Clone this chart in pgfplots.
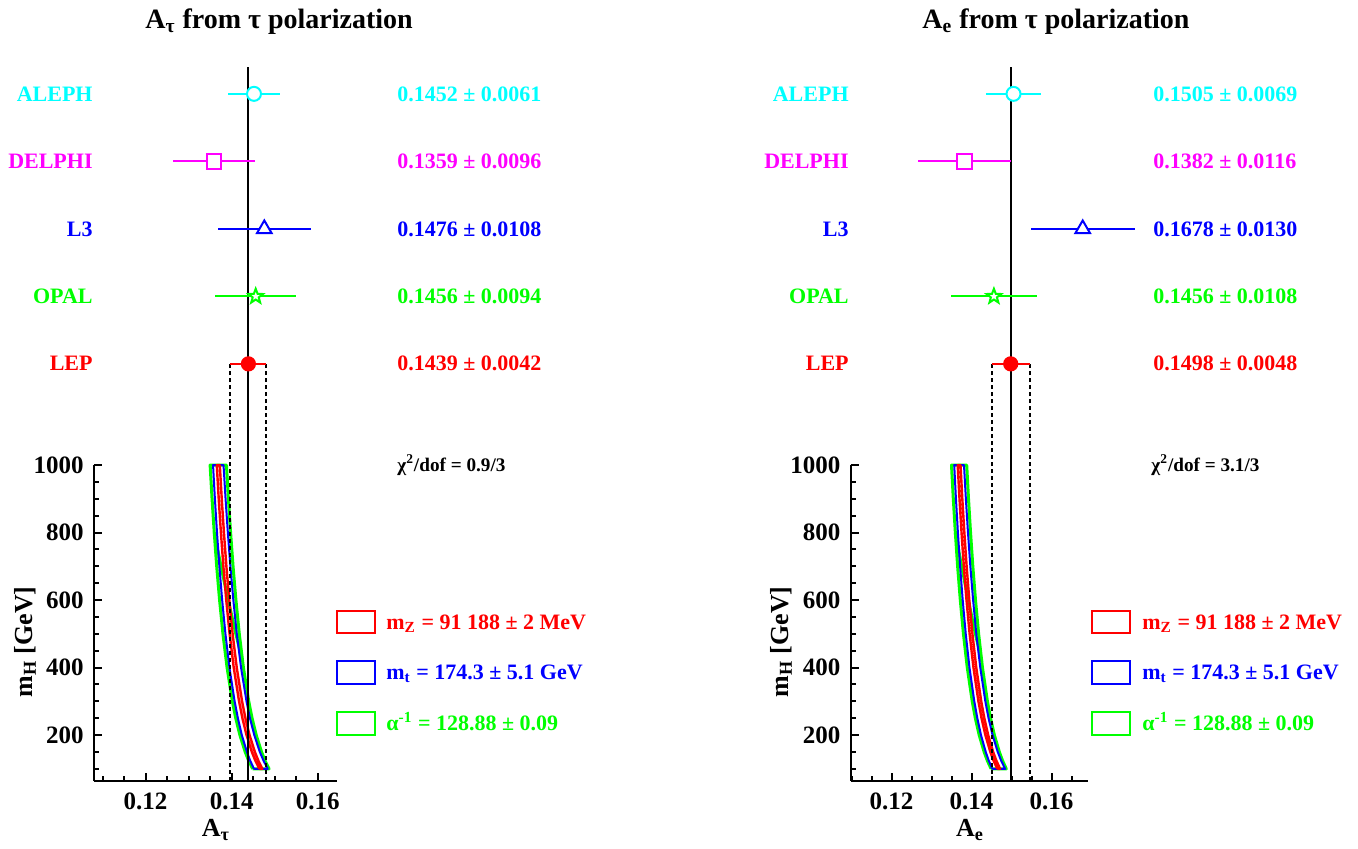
\documentclass[border=0pt]{standalone}
\usepackage{fontspec}
\setmainfont{Liberation Serif}
\usepackage{pgfplots}
\pgfplotsset{compat=1.18}
\usetikzlibrary{plotmarks}

\definecolor{cyanc}{RGB}{0,255,255}
\definecolor{magc}{RGB}{255,0,255}
\definecolor{bluec}{RGB}{0,0,255}
\definecolor{greenc}{RGB}{0,255,0}
\definecolor{redc}{RGB}{255,0,0}

\pgfdeclareplotmark{fivestar}{%
  \pgfpathmoveto{\pgfpointpolar{90}{\pgfplotmarksize}}%
  \pgfpathlineto{\pgfpointpolar{126}{0.42\pgfplotmarksize}}%
  \pgfpathlineto{\pgfpointpolar{162}{\pgfplotmarksize}}%
  \pgfpathlineto{\pgfpointpolar{198}{0.42\pgfplotmarksize}}%
  \pgfpathlineto{\pgfpointpolar{234}{\pgfplotmarksize}}%
  \pgfpathlineto{\pgfpointpolar{270}{0.42\pgfplotmarksize}}%
  \pgfpathlineto{\pgfpointpolar{306}{\pgfplotmarksize}}%
  \pgfpathlineto{\pgfpointpolar{342}{0.42\pgfplotmarksize}}%
  \pgfpathlineto{\pgfpointpolar{18}{\pgfplotmarksize}}%
  \pgfpathlineto{\pgfpointpolar{54}{0.42\pgfplotmarksize}}%
  \pgfpathclose
  \pgfusepathqfillstroke
}

\newcommand{\fs}[1]{\fontsize{#1}{#1}\selectfont\bfseries}

\pgfplotsset{panel/.style={
  scale only axis, height=360.45pt, ymin=64, ymax=2200,
  axis x line=bottom, axis y line=left,
  axis line style={-, line width=1.2pt},
  y axis line style={draw=none},
  tick align=inside, major tick length=4pt, minor tick length=2.6pt,
  every tick/.append style={black, line width=1pt},
  ytick={200,400,600,800,1000},
  minor ytick={100,150,250,300,350,450,500,550,650,700,750,850,900,950},
  xtick={0.12,0.14,0.16},
  minor xtick={0.11,0.115,0.125,0.13,0.135,0.145,0.15,0.155,0.165},
  ticklabel style={font=\fs{12.5}},
  /pgf/number format/assume math mode=true,
  xticklabel style={yshift=-2.2pt, /pgf/number format/.cd, fixed, precision=2, fixed zerofill},
  yticklabel style={xshift=-1.6pt, /pgf/number format/1000 sep={}},
  scaled x ticks=false,
  clip=false,
}}

\newcommand{\bands}{%
\addplot[greenc, line width=1.5pt, line join=round] coordinates {
(0.14490,100)(0.14394,125)(0.14316,150)(0.14192,200)(0.14096,250)(0.14018,300)(0.13894,400)(0.13798,500)(0.13720,600)(0.13653,700)(0.13596,800)(0.13545,900)(0.13500,1000)
(0.13880,1000)(0.13925,900)(0.13976,800)(0.14033,700)(0.14100,600)(0.14178,500)(0.14274,400)(0.14398,300)(0.14476,250)(0.14572,200)(0.14696,150)(0.14774,125)(0.14870,100)(0.14490,100)};
\addplot[greenc, line width=1.5pt] coordinates {
(0.13596,800)(0.13753,700)(0.13920,600)(0.14098,500)(0.14253,420)};
\addplot[bluec, line width=1pt, line join=round] coordinates {
(0.14520,100)(0.14429,125)(0.14356,150)(0.14237,200)(0.14146,250)(0.14070,300)(0.13949,400)(0.13856,500)(0.13780,600)(0.13715,700)(0.13660,800)(0.13611,900)(0.13568,1000)
(0.13812,1000)(0.13859,900)(0.13912,800)(0.13971,700)(0.14040,600)(0.14120,500)(0.14219,400)(0.14346,300)(0.14426,250)(0.14527,200)(0.14656,150)(0.14739,125)(0.14840,100)(0.14520,100)};
\addplot[redc, line width=1.2pt, line join=round] coordinates {
(0.14645,100)(0.14549,125)(0.14471,150)(0.14347,200)(0.14251,250)(0.14173,300)(0.14049,400)(0.13953,500)(0.13875,600)(0.13808,700)(0.13751,800)(0.13700,900)(0.13655,1000)
(0.13725,1000)(0.13770,900)(0.13821,800)(0.13878,700)(0.13945,600)(0.14023,500)(0.14119,400)(0.14243,300)(0.14321,250)(0.14417,200)(0.14541,150)(0.14619,125)(0.14715,100)(0.14645,100)};
}

% color, mark, x, err, y, mark size, fill
\newcommand{\meas}[7]{%
\addplot[#1, line width=1pt, mark=#2, mark size=#6,
  mark options={solid, line width=1pt, draw=#1, fill=#7},
  error bars/.cd, x dir=both, x explicit, error mark=none,
  error bar style={line width=1pt, #1}]
  coordinates {(#3,#5) +- (#4,0)};}

\begin{document}
\begin{tikzpicture}
% ---------------- left panel ----------------
\begin{axis}[panel, at={(47pt,-390.5pt)}, anchor=south west,
  width=121.5pt, xmin=0.108, xmax=0.1645]
\bands
\addplot[black, line width=1.2pt] coordinates {(0.108,64) (0.108,1000)};
\addplot[black, line width=1pt] coordinates {(0.1439,64) (0.1439,2180)};
\addplot[black, line width=1pt, dash pattern=on 2pt off 1.5pt] coordinates {(0.1397,64) (0.1397,1300)};
\addplot[black, line width=1pt, dash pattern=on 2pt off 1.5pt] coordinates {(0.1481,64) (0.1481,1300)};
\meas{cyanc}{*}{0.1452}{0.0061}{2100}{3.5pt}{white}
\meas{magc}{square*}{0.1359}{0.0096}{1900}{3.6pt}{white}
\meas{bluec}{triangle*}{0.1476}{0.0108}{1700}{4.2pt}{white}
\meas{greenc}{fivestar}{0.1456}{0.0094}{1500}{3.8pt}{white}
\meas{redc}{*}{0.1439}{0.0042}{1300}{3.3pt}{redc}
\end{axis}
% ---------------- right panel ----------------
\begin{axis}[panel, at={(425.35pt,-390.5pt)}, anchor=south west,
  width=118.8pt, xmin=0.1098, xmax=0.1692]
\bands
\addplot[black, line width=1.2pt] coordinates {(0.1098,64) (0.1098,1000)};
\addplot[black, line width=1pt] coordinates {(0.1498,64) (0.1498,2180)};
\addplot[black, line width=1pt, dash pattern=on 2pt off 1.5pt] coordinates {(0.1450,64) (0.1450,1300)};
\addplot[black, line width=1pt, dash pattern=on 2pt off 1.5pt] coordinates {(0.1546,64) (0.1546,1300)};
\meas{cyanc}{*}{0.1505}{0.0069}{2100}{3.5pt}{white}
\meas{magc}{square*}{0.1382}{0.0116}{1900}{3.6pt}{white}
\meas{bluec}{triangle*}{0.1678}{0.0130}{1700}{4.2pt}{white}
\meas{greenc}{fivestar}{0.1456}{0.0108}{1500}{3.8pt}{white}
\meas{redc}{*}{0.1498}{0.0048}{1300}{3.3pt}{redc}
\end{axis}

\begin{scope}[x=0.5pt, y=-0.5pt, every node/.style={inner sep=0pt}]
% titles
\node[anchor=base, font=\fs{14}] at (279,28.5) {A\textsubscript{τ} from τ polarization};
\node[anchor=base, font=\fs{14}] at (1056,28.5) {A\textsubscript{e} from τ polarization};
% left rows
\node[anchor=base east, font=\fs{11}, text=cyanc] at (93,101) {ALEPH};
\node[anchor=base east, font=\fs{11}, text=magc] at (93,168) {DELPHI};
\node[anchor=base east, font=\fs{11}, text=bluec] at (93,236) {L3};
\node[anchor=base east, font=\fs{11}, text=greenc] at (93,303) {OPAL};
\node[anchor=base east, font=\fs{11}, text=redc] at (93,370) {LEP};
\node[anchor=base west, font=\fs{11}, text=cyanc] at (397,101) {0.1452 ± 0.0061};
\node[anchor=base west, font=\fs{11}, text=magc] at (397,168) {0.1359 ± 0.0096};
\node[anchor=base west, font=\fs{11}, text=bluec] at (397,236) {0.1476 ± 0.0108};
\node[anchor=base west, font=\fs{11}, text=greenc] at (397,303) {0.1456 ± 0.0094};
\node[anchor=base west, font=\fs{11}, text=redc] at (397,370) {0.1439 ± 0.0042};
% right rows
\node[anchor=base east, font=\fs{11}, text=cyanc] at (849,101) {ALEPH};
\node[anchor=base east, font=\fs{11}, text=magc] at (849,168) {DELPHI};
\node[anchor=base east, font=\fs{11}, text=bluec] at (849,236) {L3};
\node[anchor=base east, font=\fs{11}, text=greenc] at (849,303) {OPAL};
\node[anchor=base east, font=\fs{11}, text=redc] at (849,370) {LEP};
\node[anchor=base west, font=\fs{11}, text=cyanc] at (1153,101) {0.1505 ± 0.0069};
\node[anchor=base west, font=\fs{11}, text=magc] at (1153,168) {0.1382 ± 0.0116};
\node[anchor=base west, font=\fs{11}, text=bluec] at (1153,236) {0.1678 ± 0.0130};
\node[anchor=base west, font=\fs{11}, text=greenc] at (1153,303) {0.1456 ± 0.0108};
\node[anchor=base west, font=\fs{11}, text=redc] at (1153,370) {0.1498 ± 0.0048};
% chi2
\node[anchor=base west, font=\fs{9.6}] at (397,471) {χ\textsuperscript{2}/dof = 0.9/3};
\node[anchor=base west, font=\fs{9.6}] at (1151,471) {χ\textsuperscript{2}/dof = 3.1/3};
% axis labels
\node[rotate=90, font=\fs{13}] at (25,642) {m\textsubscript{H} [GeV]};
\node[rotate=90, font=\fs{13}] at (781,642) {m\textsubscript{H} [GeV]};
\node[anchor=base, font=\fs{13}] at (216,836.5) {A\textsubscript{τ}};
\node[anchor=base, font=\fs{13}] at (970,836.5) {A\textsubscript{e}};
% legends
\draw[redc, line width=1pt] (337,611) rectangle (375,633);
\draw[bluec, line width=1pt] (337,661) rectangle (375,684);
\draw[greenc, line width=1pt] (337,712) rectangle (375,735);
\node[anchor=base west, font=\fs{11}, text=redc] at (386,629) {m\textsubscript{Z} = 91 188 ± 2 MeV};
\node[anchor=base west, font=\fs{11}, text=bluec] at (386,679) {m\textsubscript{t} = 174.3 ± 5.1 GeV};
\node[anchor=base west, font=\fs{11}, text=greenc] at (386,730) {α\textsuperscript{-1} = 128.88 ± 0.09};
\draw[redc, line width=1pt] (1092,611) rectangle (1130,633);
\draw[bluec, line width=1pt] (1092,661) rectangle (1130,684);
\draw[greenc, line width=1pt] (1092,712) rectangle (1130,735);
\node[anchor=base west, font=\fs{11}, text=redc] at (1142,629) {m\textsubscript{Z} = 91 188 ± 2 MeV};
\node[anchor=base west, font=\fs{11}, text=bluec] at (1142,679) {m\textsubscript{t} = 174.3 ± 5.1 GeV};
\node[anchor=base west, font=\fs{11}, text=greenc] at (1142,730) {α\textsuperscript{-1} = 128.88 ± 0.09};
\pgfresetboundingbox
\path[use as bounding box] (0,0) rectangle (1358,848);
\end{scope}
\end{tikzpicture}
\end{document}
